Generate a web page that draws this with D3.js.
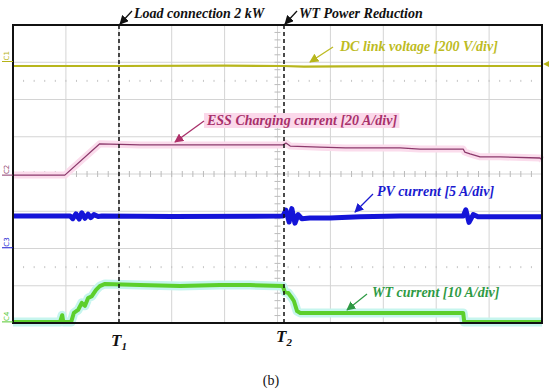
<!doctype html>
<html>
<head>
<meta charset="utf-8">
<script src="https://d3js.org/d3.v7.min.js"></script>
<style>
  body { margin: 0; background: #fff; }
  text { font-family: "Liberation Serif", "Times New Roman", serif; }
  .lbl { font-weight: 700; font-style: italic; }
</style>
</head>
<body>
<svg width="550" height="392"></svg>
<script>
// time in screen divisions (0..10), amplitude in screen divisions (-4..4)
var dcLink = [[0, 2.90], [2.0, 2.90], [4.0, 2.91], [5.1, 2.90], [5.5, 2.88], [6.2, 2.89], [8.0, 2.90], [10, 2.90]];

var essCurrent = [[0, -0.03], [0.98, -0.03], [1.64, 0.81], [2.40, 0.78], [3.54, 0.78], [4.48, 0.78],
  [5.10, 0.78], [5.16, 0.83], [5.24, 0.75], [5.80, 0.72], [6.28, 0.70], [7.32, 0.70], [7.69, 0.67],
  [8.51, 0.67], [8.54, 0.59], [8.64, 0.54], [8.83, 0.46], [9.21, 0.46], [9.96, 0.43], [10, 0.38]];

var pvCurrent = [[0, -1.13], [1.08, -1.13], [1.13, -1.20], [1.19, -1.07], [1.25, -1.21], [1.30, -1.04],
  [1.36, -1.19], [1.42, -1.08], [1.47, -1.17], [1.53, -1.09], [1.61, -1.14], [1.68, -1.13],
  [3.00, -1.14], [5.10, -1.13], [5.16, -0.97], [5.22, -1.29], [5.27, -0.93], [5.33, -1.32],
  [5.39, -1.09], [5.46, -1.20], [5.61, -1.18], [5.99, -1.18], [6.56, -1.15], [7.32, -1.13],
  [8.51, -1.13], [8.56, -0.96], [8.62, -1.30], [8.70, -1.09], [8.79, -1.15], [10, -1.15]];

var wtCurrent = [[0, -3.97], [0.89, -3.97], [0.93, -3.79], [0.95, -3.97], [1.10, -3.97], [1.15, -3.73],
  [1.23, -3.65], [1.30, -3.46], [1.36, -3.54], [1.42, -3.33], [1.49, -3.28], [1.57, -3.11],
  [1.64, -3.01], [1.74, -2.95], [2.40, -2.98], [3.16, -3.01], [3.91, -2.98], [4.48, -2.98],
  [5.10, -3.01], [5.14, -3.17], [5.20, -3.19], [5.26, -3.30], [5.31, -3.41], [5.37, -3.68],
  [5.43, -3.73], [6.37, -3.73], [7.32, -3.73], [8.51, -3.73], [8.53, -3.97], [10, -3.97]];

var events = [{t: 2.0, name: "1", label: "Load connection 2 kW"}, {t: 5.1, name: "2", label: "WT Power Reduction"}];
var channels = ["C1", "C2", "C3", "C4"];
var channelLevels = [3.02, -0.03, -1.98, -3.97];
var channelColors = ["#b5b318", "#8c3a6c", "#1a1ad0", "#55c830"];

var svg = d3.select("svg");
var x = d3.scaleLinear().domain([0, 10]).range([13, 542]);
var y = d3.scaleLinear().domain([-4, 4]).range([323, 25]);

// grid
var grid = svg.append("g");
grid.selectAll(".vg").data(d3.range(1, 10)).enter().append("line")
  .attr("x1", d => x(d)).attr("x2", d => x(d)).attr("y1", y(4)).attr("y2", y(-4))
  .attr("stroke", "#d4d4d4").attr("stroke-width", 1);
grid.selectAll(".hg").data(d3.range(-3, 4)).enter().append("line")
  .attr("x1", x(0)).attr("x2", x(10)).attr("y1", d => y(d)).attr("y2", d => y(d))
  .attr("stroke", "#d4d4d4").attr("stroke-width", 1);

// minor ticks on centre axes and dotted rows
var minorX = d3.range(0, 10.01, 0.2), minorY = d3.range(-4, 4.01, 0.2);
grid.selectAll(".tx").data(minorX).enter().append("line")
  .attr("x1", d => x(d)).attr("x2", d => x(d)).attr("y1", y(0) - 3).attr("y2", y(0) + 3)
  .attr("stroke", "#bbb");
grid.selectAll(".ty").data(minorY).enter().append("line")
  .attr("x1", x(5) - 3).attr("x2", x(5) + 3).attr("y1", d => y(d)).attr("y2", d => y(d))
  .attr("stroke", "#bbb");
[2.5, -2.5].forEach(function(lv) {
  grid.selectAll(null).data(minorX).enter().append("line")
    .attr("x1", d => x(d)).attr("x2", d => x(d)).attr("y1", y(lv) - 1).attr("y2", y(lv) + 1)
    .attr("stroke", "#c4c4c4");
});

// traces
var line = d3.line().x(d => x(d[0])).y(d => y(d[1]));
function trace(data, glow, glowW, color, w) {
  if (glow) svg.append("path").datum(data).attr("d", line).attr("fill", "none")
    .attr("stroke", glow).attr("stroke-width", glowW).attr("stroke-linejoin", "round");
  svg.append("path").datum(data).attr("d", line).attr("fill", "none")
    .attr("stroke", color).attr("stroke-width", w).attr("stroke-linejoin", "round");
}
trace(dcLink, null, 0, "#b8b61c", 2.2);
trace(essCurrent, "#fbdcec", 7, "#8c3a6c", 1.3);
trace(pvCurrent, null, 0, "#1414d8", 5);
trace(wtCurrent, "#c6f5ee", 9, "#5ccf2c", 4);

// frame
svg.append("rect").attr("x", x(0)).attr("y", y(4)).attr("width", x(10) - x(0)).attr("height", y(-4) - y(4))
  .attr("fill", "none").attr("stroke", "#111").attr("stroke-width", 2);

// channel markers
channels.forEach(function(c, i) {
  svg.append("text").attr("transform", "translate(9," + (y(channelLevels[i]) - 1) + ") rotate(-90)")
    .attr("font-size", 7).attr("fill", channelColors[i]).style("font-family", "DejaVu Sans").text(c);
  svg.append("line").attr("x1", 2).attr("x2", x(0)).attr("y1", y(channelLevels[i])).attr("y2", y(channelLevels[i]))
    .attr("stroke", channelColors[i]).attr("stroke-width", 1);
});
svg.append("path").attr("d", "M" + (x(10) + 1) + "," + y(2.95) + " l6,-3 l0,6 z").attr("fill", "#b5b318");

// arrowheads
var defs = svg.append("defs");
function marker(id, color) {
  defs.append("marker").attr("id", id).attr("viewBox", "0 0 10 10").attr("refX", 9).attr("refY", 5)
    .attr("markerWidth", 7).attr("markerHeight", 7).attr("orient", "auto")
    .append("path").attr("d", "M0,0 L10,5 L0,10 z").attr("fill", color);
}
marker("ak", "#111"); marker("ay", "#b8b61c"); marker("am", "#b0306a"); marker("ab", "#1a1ad0"); marker("ag", "#2e9a44");

// event lines
events.forEach(function(e, i) {
  var px = i === 0 ? 119 : 284;
  svg.append("line").attr("x1", px).attr("x2", px).attr("y1", y(4)).attr("y2", y(-4))
    .attr("stroke", "#111").attr("stroke-width", 1.5).attr("stroke-dasharray", "4,3");
  svg.append("line").attr("x1", px + 13).attr("y1", 11).attr("x2", px + 1).attr("y2", 24)
    .attr("stroke", "#111").attr("stroke-width", 1.3).attr("marker-end", "url(#ak)");
  svg.append("text").attr("class", "lbl").attr("x", px + 15).attr("y", 18).attr("font-size", 14)
    .attr("fill", "#111").text(e.label);
  var t = svg.append("text").attr("class", "lbl").attr("x", px - 8).attr("y", i === 0 ? 346 : 342)
    .attr("font-size", 17).attr("fill", "#111");
  t.append("tspan").text("T");
  t.append("tspan").attr("font-size", 11).attr("dy", 4).text(e.name);
});

// trace labels
function tag(tx, ty, txt, color, bg, ax1, ay1, ax2, ay2, mk) {
  var g = svg.append("g");
  var t = g.append("text").attr("class", "lbl").attr("x", tx).attr("y", ty).attr("font-size", 14)
    .attr("fill", color).text(txt);
  if (bg) {
    var b = t.node().getBBox();
    g.insert("rect", "text").attr("x", b.x - 2).attr("y", b.y).attr("width", b.width + 4).attr("height", b.height)
      .attr("fill", bg);
  }
  svg.append("line").attr("x1", ax1).attr("y1", ay1).attr("x2", ax2).attr("y2", ay2)
    .attr("stroke", color).attr("stroke-width", 1.3).attr("marker-end", "url(#" + mk + ")");
}
tag(340, 51, "DC link voltage [200 V/div]", "#bdbb22", null, 333, 47, 310, 62, "ay");
tag(207, 125, "ESS Charging current [20 A/div]", "#a8306a", "#fbd8ea", 204, 121, 175, 142, "am");
tag(377, 196, "PV current [5 A/div]", "#1a1ad0", null, 373, 194, 355, 212, "ab");
tag(372, 297, "WT current [10 A/div]", "#2e9a44", null, 367, 294, 347, 310, "ag");

svg.append("text").attr("x", 271).attr("y", 385).attr("text-anchor", "middle").attr("font-size", 14)
  .attr("fill", "#111").text("(b)");
</script>
</body>
</html>
